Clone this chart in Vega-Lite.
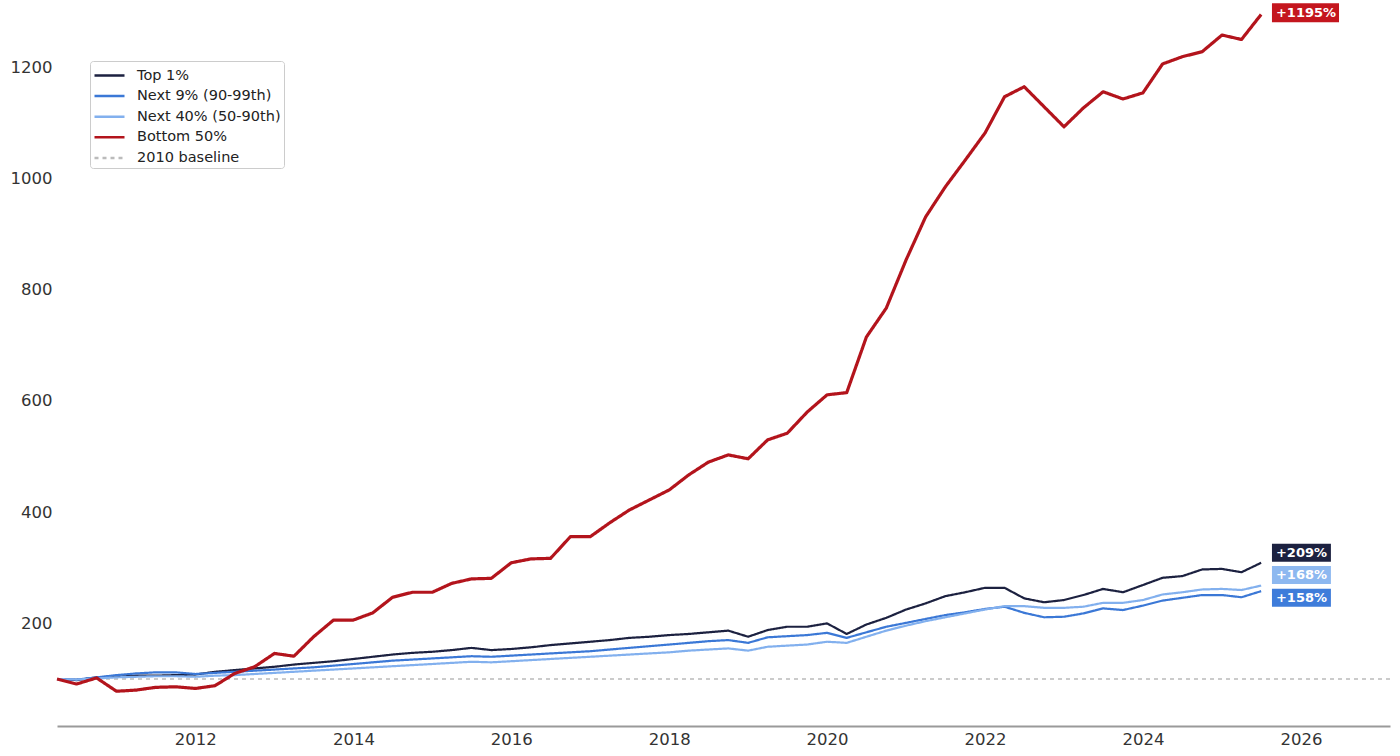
{
  "$schema": "https://vega.github.io/schema/vega-lite/v6.json",
  "width": 1333,
  "height": 726,
  "autosize": {"type": "none"},
  "padding": {"left": 57, "top": 0, "right": 10, "bottom": 30},
  "background": "white",
  "datasets": {
    "wealth": [
      {"date": "2010-04-01", "Top 1%": 100, "Next 9% (90-99th)": 100, "Next 40% (50-90th)": 100, "Bottom 50%": 100},
      {"date": "2010-07-01", "Top 1%": 98, "Next 9% (90-99th)": 99, "Next 40% (50-90th)": 99, "Bottom 50%": 91},
      {"date": "2010-10-01", "Top 1%": 103, "Next 9% (90-99th)": 103, "Next 40% (50-90th)": 101, "Bottom 50%": 102},
      {"date": "2011-01-01", "Top 1%": 104, "Next 9% (90-99th)": 107, "Next 40% (50-90th)": 103, "Bottom 50%": 78},
      {"date": "2011-04-01", "Top 1%": 106, "Next 9% (90-99th)": 110, "Next 40% (50-90th)": 104, "Bottom 50%": 80},
      {"date": "2011-07-01", "Top 1%": 106, "Next 9% (90-99th)": 112, "Next 40% (50-90th)": 105, "Bottom 50%": 85},
      {"date": "2011-10-01", "Top 1%": 107, "Next 9% (90-99th)": 112, "Next 40% (50-90th)": 105, "Bottom 50%": 86},
      {"date": "2012-01-01", "Top 1%": 108, "Next 9% (90-99th)": 109, "Next 40% (50-90th)": 104, "Bottom 50%": 83},
      {"date": "2012-04-01", "Top 1%": 113, "Next 9% (90-99th)": 111, "Next 40% (50-90th)": 106, "Bottom 50%": 88},
      {"date": "2012-07-01", "Top 1%": 116, "Next 9% (90-99th)": 113, "Next 40% (50-90th)": 107, "Bottom 50%": 110},
      {"date": "2012-10-01", "Top 1%": 119, "Next 9% (90-99th)": 115, "Next 40% (50-90th)": 109, "Bottom 50%": 122},
      {"date": "2013-01-01", "Top 1%": 122, "Next 9% (90-99th)": 117, "Next 40% (50-90th)": 111, "Bottom 50%": 146},
      {"date": "2013-04-01", "Top 1%": 126, "Next 9% (90-99th)": 119, "Next 40% (50-90th)": 113, "Bottom 50%": 141},
      {"date": "2013-07-01", "Top 1%": 129, "Next 9% (90-99th)": 121, "Next 40% (50-90th)": 115, "Bottom 50%": 176},
      {"date": "2013-10-01", "Top 1%": 132, "Next 9% (90-99th)": 124, "Next 40% (50-90th)": 117, "Bottom 50%": 206},
      {"date": "2014-01-01", "Top 1%": 136, "Next 9% (90-99th)": 127, "Next 40% (50-90th)": 119, "Bottom 50%": 206},
      {"date": "2014-04-01", "Top 1%": 140, "Next 9% (90-99th)": 130, "Next 40% (50-90th)": 121, "Bottom 50%": 219},
      {"date": "2014-07-01", "Top 1%": 144, "Next 9% (90-99th)": 133, "Next 40% (50-90th)": 123, "Bottom 50%": 247},
      {"date": "2014-10-01", "Top 1%": 147, "Next 9% (90-99th)": 135, "Next 40% (50-90th)": 125, "Bottom 50%": 256},
      {"date": "2015-01-01", "Top 1%": 149, "Next 9% (90-99th)": 137, "Next 40% (50-90th)": 127, "Bottom 50%": 256},
      {"date": "2015-04-01", "Top 1%": 152, "Next 9% (90-99th)": 139, "Next 40% (50-90th)": 129, "Bottom 50%": 272},
      {"date": "2015-07-01", "Top 1%": 156, "Next 9% (90-99th)": 141, "Next 40% (50-90th)": 131, "Bottom 50%": 280},
      {"date": "2015-10-01", "Top 1%": 152, "Next 9% (90-99th)": 140, "Next 40% (50-90th)": 130, "Bottom 50%": 281},
      {"date": "2016-01-01", "Top 1%": 154, "Next 9% (90-99th)": 142, "Next 40% (50-90th)": 132, "Bottom 50%": 309},
      {"date": "2016-04-01", "Top 1%": 157, "Next 9% (90-99th)": 144, "Next 40% (50-90th)": 134, "Bottom 50%": 316},
      {"date": "2016-07-01", "Top 1%": 161, "Next 9% (90-99th)": 146, "Next 40% (50-90th)": 136, "Bottom 50%": 317},
      {"date": "2016-10-01", "Top 1%": 164, "Next 9% (90-99th)": 148, "Next 40% (50-90th)": 138, "Bottom 50%": 356},
      {"date": "2017-01-01", "Top 1%": 167, "Next 9% (90-99th)": 150, "Next 40% (50-90th)": 140, "Bottom 50%": 356},
      {"date": "2017-04-01", "Top 1%": 170, "Next 9% (90-99th)": 153, "Next 40% (50-90th)": 142, "Bottom 50%": 381},
      {"date": "2017-07-01", "Top 1%": 174, "Next 9% (90-99th)": 156, "Next 40% (50-90th)": 144, "Bottom 50%": 404},
      {"date": "2017-10-01", "Top 1%": 176, "Next 9% (90-99th)": 159, "Next 40% (50-90th)": 146, "Bottom 50%": 422},
      {"date": "2018-01-01", "Top 1%": 179, "Next 9% (90-99th)": 162, "Next 40% (50-90th)": 148, "Bottom 50%": 440},
      {"date": "2018-04-01", "Top 1%": 181, "Next 9% (90-99th)": 165, "Next 40% (50-90th)": 151, "Bottom 50%": 467},
      {"date": "2018-07-01", "Top 1%": 184, "Next 9% (90-99th)": 168, "Next 40% (50-90th)": 153, "Bottom 50%": 490},
      {"date": "2018-10-01", "Top 1%": 187, "Next 9% (90-99th)": 170, "Next 40% (50-90th)": 155, "Bottom 50%": 503},
      {"date": "2019-01-01", "Top 1%": 176, "Next 9% (90-99th)": 165, "Next 40% (50-90th)": 151, "Bottom 50%": 496},
      {"date": "2019-04-01", "Top 1%": 188, "Next 9% (90-99th)": 175, "Next 40% (50-90th)": 158, "Bottom 50%": 530},
      {"date": "2019-07-01", "Top 1%": 194, "Next 9% (90-99th)": 177, "Next 40% (50-90th)": 160, "Bottom 50%": 542},
      {"date": "2019-10-01", "Top 1%": 194, "Next 9% (90-99th)": 179, "Next 40% (50-90th)": 162, "Bottom 50%": 580},
      {"date": "2020-01-01", "Top 1%": 200, "Next 9% (90-99th)": 183, "Next 40% (50-90th)": 167, "Bottom 50%": 611},
      {"date": "2020-04-01", "Top 1%": 181, "Next 9% (90-99th)": 174, "Next 40% (50-90th)": 165, "Bottom 50%": 615},
      {"date": "2020-07-01", "Top 1%": 198, "Next 9% (90-99th)": 184, "Next 40% (50-90th)": 176, "Bottom 50%": 715},
      {"date": "2020-10-01", "Top 1%": 210, "Next 9% (90-99th)": 194, "Next 40% (50-90th)": 187, "Bottom 50%": 767},
      {"date": "2021-01-01", "Top 1%": 225, "Next 9% (90-99th)": 201, "Next 40% (50-90th)": 196, "Bottom 50%": 854},
      {"date": "2021-04-01", "Top 1%": 236, "Next 9% (90-99th)": 208, "Next 40% (50-90th)": 204, "Bottom 50%": 931},
      {"date": "2021-07-01", "Top 1%": 249, "Next 9% (90-99th)": 215, "Next 40% (50-90th)": 211, "Bottom 50%": 985},
      {"date": "2021-10-01", "Top 1%": 256, "Next 9% (90-99th)": 220, "Next 40% (50-90th)": 218, "Bottom 50%": 1033},
      {"date": "2022-01-01", "Top 1%": 264, "Next 9% (90-99th)": 226, "Next 40% (50-90th)": 225, "Bottom 50%": 1082},
      {"date": "2022-04-01", "Top 1%": 264, "Next 9% (90-99th)": 230, "Next 40% (50-90th)": 231, "Bottom 50%": 1147},
      {"date": "2022-07-01", "Top 1%": 245, "Next 9% (90-99th)": 219, "Next 40% (50-90th)": 231, "Bottom 50%": 1165},
      {"date": "2022-10-01", "Top 1%": 238, "Next 9% (90-99th)": 211, "Next 40% (50-90th)": 228, "Bottom 50%": 1129},
      {"date": "2023-01-01", "Top 1%": 242, "Next 9% (90-99th)": 212, "Next 40% (50-90th)": 228, "Bottom 50%": 1093},
      {"date": "2023-04-01", "Top 1%": 251, "Next 9% (90-99th)": 218, "Next 40% (50-90th)": 230, "Bottom 50%": 1127},
      {"date": "2023-07-01", "Top 1%": 262, "Next 9% (90-99th)": 227, "Next 40% (50-90th)": 237, "Bottom 50%": 1156},
      {"date": "2023-10-01", "Top 1%": 256, "Next 9% (90-99th)": 224, "Next 40% (50-90th)": 237, "Bottom 50%": 1143},
      {"date": "2024-01-01", "Top 1%": 269, "Next 9% (90-99th)": 232, "Next 40% (50-90th)": 242, "Bottom 50%": 1154},
      {"date": "2024-04-01", "Top 1%": 282, "Next 9% (90-99th)": 241, "Next 40% (50-90th)": 252, "Bottom 50%": 1206},
      {"date": "2024-07-01", "Top 1%": 285, "Next 9% (90-99th)": 246, "Next 40% (50-90th)": 256, "Bottom 50%": 1219},
      {"date": "2024-10-01", "Top 1%": 297, "Next 9% (90-99th)": 251, "Next 40% (50-90th)": 261, "Bottom 50%": 1228},
      {"date": "2025-01-01", "Top 1%": 298, "Next 9% (90-99th)": 251, "Next 40% (50-90th)": 262, "Bottom 50%": 1258},
      {"date": "2025-04-01", "Top 1%": 292, "Next 9% (90-99th)": 247, "Next 40% (50-90th)": 260, "Bottom 50%": 1250},
      {"date": "2025-07-01", "Top 1%": 309, "Next 9% (90-99th)": 258, "Next 40% (50-90th)": 268, "Bottom 50%": 1295}
    ],
    "endLabels": [
      {"series": "Bottom 50%", "label": "+1195%", "label_y": 1298},
      {"series": "Top 1%", "label": "+209%", "label_y": 327},
      {"series": "Next 40% (50-90th)", "label": "+168%", "label_y": 287},
      {"series": "Next 9% (90-99th)", "label": "+158%", "label_y": 246}
    ],
    "baseline": [
      {"series": "2010 baseline", "value": 100}
    ]
  },
  "layer": [
    {
      "data": {"name": "baseline"},
      "mark": {"type": "rule", "strokeWidth": 1.5},
      "encoding": {
        "y": {"field": "value", "type": "quantitative"},
        "color": {"field": "series", "type": "nominal"},
        "strokeDash": {"field": "series", "type": "nominal"}
      }
    },
    {
      "data": {"name": "wealth"},
      "transform": [
        {"fold": ["Top 1%", "Next 9% (90-99th)", "Next 40% (50-90th)", "Bottom 50%"], "as": ["series", "value"]}
      ],
      "mark": {"type": "line", "strokeJoin": "round"},
      "encoding": {
        "x": {"field": "date", "type": "temporal"},
        "y": {"field": "value", "type": "quantitative"},
        "color": {"field": "series", "type": "nominal"},
        "strokeDash": {"field": "series", "type": "nominal"},
        "strokeWidth": {
          "condition": {"test": "datum.series === 'Bottom 50%'", "value": 3.2},
          "value": 2.2
        }
      }
    },
    {
      "data": {"name": "endLabels"},
      "mark": {"type": "point", "filled": true, "opacity": 1, "size": 324, "strokeWidth": 0},
      "encoding": {
        "x": {"datum": {"year": 2025, "month": 8, "date": 20, "utc": true}, "type": "temporal"},
        "y": {"field": "label_y", "type": "quantitative"},
        "fill": {
          "field": "series",
          "type": "nominal",
          "legend": null,
          "scale": {
            "domain": ["Top 1%", "Next 9% (90-99th)", "Next 40% (50-90th)", "Bottom 50%"],
            "range": ["#1c2140", "#3e7cda", "#8db8f0", "#c4161e"]
          }
        },
        "shape": {
          "field": "series",
          "type": "nominal",
          "legend": null,
          "scale": {
            "domain": ["Top 1%", "Next 9% (90-99th)", "Next 40% (50-90th)", "Bottom 50%"],
            "range": ["M0,-1H6.55V1H0Z", "M0,-1H6.55V1H0Z", "M0,-1H6.55V1H0Z", "M0,-1.05H7.45V1.05H0Z"]
          }
        }
      }
    },
    {
      "data": {"name": "endLabels"},
      "mark": {"type": "text", "align": "left", "baseline": "middle", "dx": 4, "font": "DejaVu Sans", "fontSize": 13, "fontWeight": "bold", "color": "white"},
      "encoding": {
        "x": {"datum": {"year": 2025, "month": 8, "date": 20, "utc": true}, "type": "temporal"},
        "y": {"field": "label_y", "type": "quantitative"},
        "text": {"field": "label"}
      }
    }
  ],
  "encoding": {
    "x": {
      "scale": {
        "type": "utc",
        "domain": [{"year": 2010, "month": 4, "date": 1, "utc": true}, {"year": 2027, "month": 2, "date": 17, "utc": true}]
      },
      "axis": {
        "title": null,
        "values": [
          {"year": 2012, "utc": true}, {"year": 2014, "utc": true}, {"year": 2016, "utc": true},
          {"year": 2018, "utc": true}, {"year": 2020, "utc": true}, {"year": 2022, "utc": true},
          {"year": 2024, "utc": true}, {"year": 2026, "utc": true}
        ],
        "format": "%Y",
        "ticks": false,
        "grid": false,
        "domainColor": "#9a9a9a",
        "domainWidth": 2,
        "labelPadding": 5,
        "labelFontSize": 16.5,
        "labelFont": "DejaVu Sans",
        "labelColor": "#333333"
      }
    },
    "y": {
      "scale": {"domain": [15.5, 1321], "nice": false, "zero": false},
      "axis": {
        "title": null,
        "values": [200, 400, 600, 800, 1000, 1200],
        "format": "d",
        "domain": false,
        "ticks": false,
        "grid": false,
        "labelPadding": 5,
        "labelFontSize": 16.5,
        "labelFont": "DejaVu Sans",
        "labelColor": "#333333"
      }
    },
    "color": {
      "scale": {
        "domain": ["Top 1%", "Next 9% (90-99th)", "Next 40% (50-90th)", "Bottom 50%", "2010 baseline"],
        "range": ["#1c2140", "#3b78d6", "#82b0ee", "#b3141c", "#bbbbbb"]
      },
      "legend": {
        "title": null,
        "orient": "none",
        "legendX": 33,
        "legendY": 61,
        "symbolType": "M-1,0H2",
        "symbolSize": 400,
        "symbolStrokeWidth": 2.5,
        "labelOffset": 21,
        "rowPadding": 2.6,
        "padding": 3,
        "strokeColor": "#cccccc",
        "fillColor": "white",
        "cornerRadius": 3,
        "labelFont": "DejaVu Sans",
        "labelFontSize": 14.5,
        "labelColor": "#222222"
      }
    },
    "strokeDash": {
      "scale": {
        "domain": ["Top 1%", "Next 9% (90-99th)", "Next 40% (50-90th)", "Bottom 50%", "2010 baseline"],
        "range": [[1, 0], [1, 0], [1, 0], [1, 0], [4, 4]]
      },
      "legend": {
        "title": null,
        "orient": "none",
        "legendX": 33,
        "legendY": 61
      }
    }
  },
  "config": {
    "view": {"stroke": null},
    "font": "DejaVu Sans"
  }
}
